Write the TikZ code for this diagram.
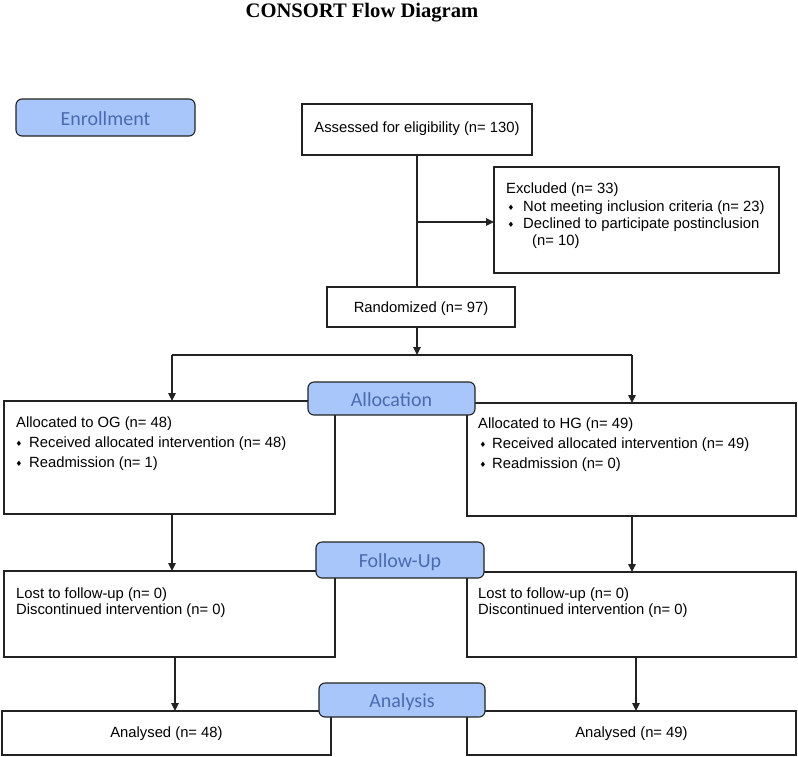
\documentclass[tikz,border=0pt]{standalone}
\usepackage{fontspec}
\setmainfont{Liberation Sans}
\newfontfamily\labfont{Carlito}
\newfontfamily\titlefont{Liberation Serif}
\newfontfamily\symfont{DejaVu Sans}
\usetikzlibrary{arrows.meta}
\definecolor{labfill}{HTML}{A8C6FA}
\definecolor{labtext}{HTML}{4A6BB0}
\definecolor{linec}{HTML}{222222}
\newcommand{\mybul}[1]{\makebox[#1][l]{\raisebox{0.6pt}{\symfont\fontsize{7.5}{7.5}\selectfont ♦}}}
\begin{document}
\begin{tikzpicture}[x=1pt,y=-1pt,
  font=\fontsize{14.8}{18}\selectfont,
  box/.style={draw=linec, line width=1.1pt, inner sep=0pt, outer sep=0pt, anchor=north west},
  lab/.style={draw=linec, line width=1.1pt, fill=labfill, rounded corners=6pt, inner sep=0pt, outer sep=0pt,
    anchor=north west, text=labtext, font=\labfont\fontsize{20}{24}\selectfont, text height=16pt, text depth=1pt},
  txt/.style={anchor=base west, inner sep=0pt},
  ctxt/.style={anchor=base, inner sep=0pt},
  conn/.style={draw=linec, line width=1.1pt},
  arr/.style={draw=linec, line width=1.1pt, -{Triangle[length=8pt,width=7.5pt]}}]
\useasboundingbox (0,0) rectangle (798,756);

% title
\node[ctxt, font=\titlefont\bfseries\fontsize{20.6}{24}\selectfont] (title) at (362,17) {CONSORT Flow Diagram};

% boxes
\node[box, minimum width=230pt, minimum height=51pt] (assess) at (302,104) {};
\node[box, minimum width=285pt, minimum height=106pt] (excl) at (494,167) {};
\node[box, minimum width=188pt, minimum height=40pt] (rand) at (327,287) {};
\node[box, minimum width=331pt, minimum height=113pt] (og) at (4,401) {};
\node[box, minimum width=329pt, minimum height=113pt] (hg) at (467,403) {};
\node[box, minimum width=331pt, minimum height=86pt] (lostL) at (4,571) {};
\node[box, minimum width=329pt, minimum height=85pt] (lostR) at (467,572) {};
\node[box, minimum width=329pt, minimum height=44pt] (anL) at (2,711) {};
\node[box, minimum width=329pt, minimum height=44pt] (anR) at (467,711) {};

% texts
\node[ctxt] (assessT) at (417,132) {Assessed for eligibility (n= 130)};
\node[txt] (exT1) at (506,193) {Excluded (n= 33)};
\node[txt] (exT2) at (507.5,211) {\mybul{15.5pt}Not meeting inclusion criteria (n= 23)};
\node[txt] (exT3) at (507.5,228) {\mybul{15.5pt}Declined to participate postinclusion};
\node[txt] (exT4) at (532,245) {(n= 10)};
\node[ctxt] (randT) at (421,312) {Randomized (n= 97)};
\node[txt] (ogT1) at (16,427) {Allocated to OG (n= 48)};
\node[txt] (ogT2) at (15.5,447) {\mybul{13.5pt}Received allocated intervention (n= 48)};
\node[txt] (ogT3) at (15.5,467) {\mybul{13.5pt}Readmission (n= 1)};
\node[txt] (hgT1) at (478,428) {Allocated to HG (n= 49)};
\node[txt] (hgT2) at (479.5,448) {\mybul{12.5pt}Received allocated intervention (n= 49)};
\node[txt] (hgT3) at (479.5,468) {\mybul{12.5pt}Readmission (n= 0)};
\node[txt] (lostLT1) at (16,598) {Lost to follow-up (n= 0)};
\node[txt] (lostLT2) at (16,614) {Discontinued intervention (n= 0)};
\node[txt] (lostRT1) at (478,598) {Lost to follow-up (n= 0)};
\node[txt] (lostRT2) at (478,614) {Discontinued intervention (n= 0)};
\node[ctxt] (anLT) at (166.5,737) {Analysed (n= 48)};
\node[ctxt] (anRT) at (631.5,737) {Analysed (n= 49)};

% stage labels
\node[lab, minimum width=179pt, minimum height=37pt] (enroll) at (16,99) {Enrollment};
\node[lab, minimum width=167pt, minimum height=33pt] (alloc) at (308,382) {Allocation};
\node[lab, minimum width=168pt, minimum height=36pt] (follow) at (316,542) {Follow-Up};
\node[lab, minimum width=166pt, minimum height=34pt] (analysis) at (319,683) {Analysis};

% connectors
\coordinate (exJ) at (417,222);
\coordinate (jM) at (417,355);
\coordinate (jL) at (172,355);
\coordinate (jR) at (632,355);
\coordinate (kL) at ([xshift=5.5pt]lostL.south);
\coordinate (kR) at ([xshift=4.5pt]lostR.south);
\draw[conn] (assess.south) -- (assess.south |- rand.north);
\draw[arr] (exJ) -- (exJ -| excl.west);
\draw[arr] (rand.south -| jM) -- (jM);
\draw[conn] (jL) -- (jR);
\draw[arr] (jL) -- (jL |- og.north);
\draw[arr] (jR) -- (jR |- hg.north);
\draw[arr] (og.south -| jL) -- (jL |- lostL.north);
\draw[arr] (hg.south -| jR) -- (jR |- lostR.north);
\draw[arr] (kL) -- (kL |- anL.north);
\draw[arr] (kR) -- (kR |- anR.north);
\end{tikzpicture}
\end{document}
